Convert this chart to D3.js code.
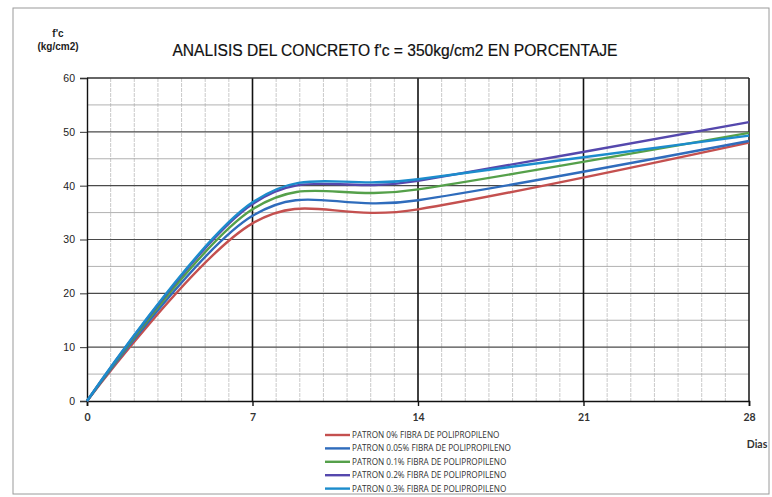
<!DOCTYPE html>
<html>
<head>
<meta charset="utf-8">
<script src="https://cdn.jsdelivr.net/npm/d3@7"></script>
<style>
  html, body { margin: 0; padding: 0; background: #fff; }
  svg { display: block; }
</style>
</head>
<body>
<svg id="chart" width="772" height="497"></svg>
<script>
// ---- data ----
const days = [0, 7, 14, 28];
const patron0   = [0, 33.0, 35.6, 48.0];
const patron005 = [0, 34.4, 37.3, 48.3];
const patron01  = [0, 35.6, 39.3, 49.8];
const patron02  = [0, 36.6, 40.9, 51.8];
const patron03  = [0, 36.9, 41.2, 49.3];
const seriesNames = [
  "PATRON 0% FIBRA DE POLIPROPILENO",
  "PATRON 0.05% FIBRA DE POLIPROPILENO",
  "PATRON 0.1% FIBRA DE POLIPROPILENO",
  "PATRON 0.2% FIBRA DE POLIPROPILENO",
  "PATRON 0.3% FIBRA DE POLIPROPILENO"
];
const seriesColors = ["#c4504f", "#2f6cbc", "#55a04a", "#5548ad", "#1c8ccc"];
const xTickValues = [0, 7, 14, 21, 28];
const yTickValues = [0, 10, 20, 30, 40, 50, 60];

const seriesValues = [patron0, patron005, patron01, patron02, patron03];

const svg = d3.select("#chart");
const x = d3.scaleLinear().domain([0, 28]).range([87, 749]);
const y = d3.scaleLinear().domain([0, 60]).range([401, 78]);

// outer frame
svg.append("rect").attr("x", 13).attr("y", 8).attr("width", 756).attr("height", 486)
  .attr("fill", "none").attr("stroke", "#9a9a9a").attr("stroke-width", 1);

// minor vertical gridlines (every day)
const minorDays = d3.range(1, 28).filter(d => d % 7 !== 0);
svg.append("g").selectAll("line").data(minorDays).join("line")
  .attr("x1", d => x(d)).attr("x2", d => x(d))
  .attr("y1", y(60)).attr("y2", y(0))
  .attr("stroke", "#bdbdbd").attr("stroke-width", 0.8).attr("stroke-dasharray", "4,1");

// minor horizontal gridlines (every 5)
const minorY = d3.range(5, 60, 10);
svg.append("g").selectAll("line").data(minorY).join("line")
  .attr("x1", x(0)).attr("x2", x(28))
  .attr("y1", d => y(d)).attr("y2", d => y(d))
  .attr("stroke", "#a8a8a8").attr("stroke-width", 0.9);

// major horizontal gridlines
svg.append("g").selectAll("line").data([10, 20, 30, 40, 50]).join("line")
  .attr("x1", x(0)).attr("x2", x(28))
  .attr("y1", d => y(d)).attr("y2", d => y(d))
  .attr("stroke", "#4a4a4a").attr("stroke-width", 1.2);

// major vertical gridlines
svg.append("g").selectAll("line").data([7, 14, 21]).join("line")
  .attr("x1", d => x(d)).attr("x2", d => x(d))
  .attr("y1", y(60)).attr("y2", y(0))
  .attr("stroke", "#111").attr("stroke-width", 1.6);

// plot border top/right
svg.append("line").attr("x1", x(0)).attr("x2", x(28)).attr("y1", y(60)).attr("y2", y(60))
  .attr("stroke", "#333").attr("stroke-width", 1.3);
svg.append("line").attr("x1", x(28)).attr("x2", x(28)).attr("y1", y(60)).attr("y2", y(0))
  .attr("stroke", "#222").attr("stroke-width", 1.6);

// axes
const yAxis = d3.axisLeft(y).tickValues(yTickValues).tickSize(7).tickPadding(5).tickFormat(d3.format("d"));
const gy = svg.append("g").attr("transform", `translate(${x(0)},0)`).call(yAxis);
gy.select(".domain").attr("stroke", "#111").attr("stroke-width", 1.4);
gy.selectAll(".tick line").attr("stroke", "#333").attr("stroke-width", 1);
gy.selectAll(".tick text").attr("font-family", "Liberation Sans, Arial, sans-serif")
  .attr("font-size", 10.5).attr("fill", "#222");

const xAxis = d3.axisBottom(x).tickValues(xTickValues).tickSize(5).tickPadding(8).tickFormat(d3.format("d"));
const gx = svg.append("g").attr("transform", `translate(0,${y(0)})`).call(xAxis);
gx.select(".domain").attr("stroke", "#111").attr("stroke-width", 1.6);
gx.selectAll(".tick line").attr("stroke", "#111").attr("stroke-width", 1.4);
gx.selectAll(".tick text").attr("font-family", "Lato, 'Open Sans', sans-serif")
  .attr("font-size", 10.5).attr("font-weight", "bold").attr("fill", "#333");

// series lines
const line = d3.line()
  .x((d, i) => x(days[i]))
  .y(d => y(d))
  .curve(d3.curveCardinal.tension(0));

svg.append("g").selectAll("path").data(seriesValues).join("path")
  .attr("d", d => line(d))
  .attr("fill", "none")
  .attr("stroke", (d, i) => seriesColors[i])
  .attr("stroke-width", 2.4)
  .attr("stroke-linejoin", "round");

// title
svg.append("text").attr("x", 395).attr("y", 56).attr("text-anchor", "middle")
  .attr("font-family", "Liberation Sans, Arial, sans-serif").attr("font-size", 15.6)
  .attr("fill", "#111").attr("stroke", "#111").attr("stroke-width", 0.2)
  .text("ANALISIS DEL CONCRETO f'c = 350kg/cm2 EN PORCENTAJE");

// y axis label
svg.append("text").attr("x", 58).attr("y", 37).attr("text-anchor", "middle")
  .attr("font-family", "Liberation Sans, Arial, sans-serif").attr("font-size", 10)
  .attr("font-weight", "bold").attr("fill", "#222").text("f'c");
svg.append("text").attr("x", 58).attr("y", 50).attr("text-anchor", "middle")
  .attr("font-family", "Liberation Sans, Arial, sans-serif").attr("font-size", 10)
  .attr("font-weight", "bold").attr("fill", "#222").text("(kg/cm2)");

// x axis label
svg.append("text").attr("x", 757).attr("y", 448).attr("text-anchor", "middle")
  .attr("font-family", "Lato, 'Open Sans', sans-serif").attr("font-size", 10.5)
  .attr("font-weight", "bold").attr("fill", "#333").text("Dias");

// legend
const legend = svg.append("g").attr("transform", "translate(325,435)");
const rows = legend.selectAll("g").data(seriesNames).join("g")
  .attr("transform", (d, i) => `translate(0,${i * 13.4})`);
rows.append("line").attr("x1", 0).attr("x2", 25).attr("y1", 0).attr("y2", 0)
  .attr("stroke", (d, i) => seriesColors[i]).attr("stroke-width", 2.4);
rows.append("text").attr("x", 27).attr("y", 3)
  .attr("font-family", "'Open Sans', sans-serif").attr("font-size", 8.2)
  .attr("fill", "#333").text(d => d);
</script>
</body>
</html>
